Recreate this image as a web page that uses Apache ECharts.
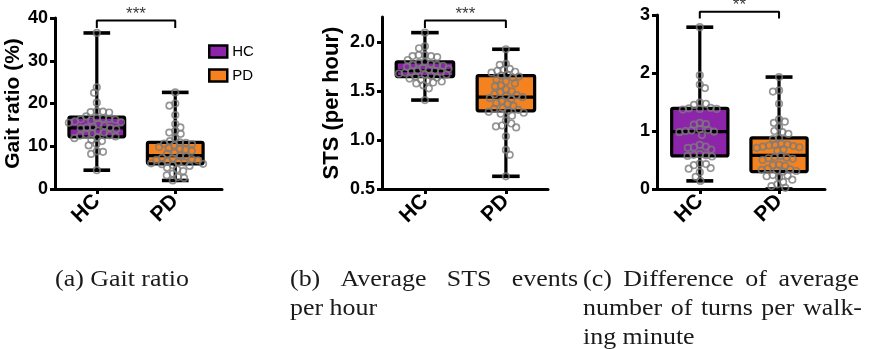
<!DOCTYPE html>
<html>
<head>
<meta charset="utf-8">
<script src="https://cdn.jsdelivr.net/npm/echarts@6/dist/echarts.min.js"></script>
<style>
html,body{margin:0;padding:0;background:#fff;}
#main{width:878px;height:349px;}
</style>
</head>
<body>
<div id="main"></div>
<script>
// ---------------- data ----------------
const categories = ['HC', 'PD'];

const gaitHC = [36.5, 23.8, 22.5, 20.2, 18.2, 18.1, 18.0, 17.9, 17.0, 16.6, 16.5, 16.4, 16.3, 16.2, 16.0, 15.8, 15.6, 15.5,
  15.2, 14.8, 14.5, 14.4, 14.3, 14.2, 14.0, 13.6, 13.2, 13.0, 12.8, 12.6, 12.5, 12.3, 12.1, 11.9, 11.5, 11.2, 10.5, 10.2, 8.8, 8.7, 8.2, 4.4];
const gaitPD = [22.6, 20.0, 19.5, 17.3, 15.2, 14.4, 13.6, 13.2, 12.9, 11.9, 11.2, 10.9, 10.8, 10.6, 10.5, 10.2, 9.8, 9.6, 9.4,
  9.2, 8.9, 8.5, 8.2, 7.8, 7.6, 7.3, 7.1, 7.0, 6.8, 6.7, 6.5, 6.3, 6.2, 6.0, 5.9, 5.8, 5.6, 5.4, 5.0, 4.6, 4.2, 3.6, 3.2, 2.8, 2.6, 2.0];
const stsHC = [2.10, 1.96, 1.94, 1.87, 1.87, 1.86, 1.86, 1.85, 1.82, 1.80, 1.79, 1.78, 1.77, 1.77, 1.76, 1.75, 1.74, 1.73, 1.72,
  1.71, 1.71, 1.70, 1.70, 1.69, 1.68, 1.67, 1.67, 1.66, 1.65, 1.64, 1.63, 1.62, 1.61, 1.60, 1.59, 1.58, 1.56, 1.53, 1.41];
const stsPD = [1.93, 1.78, 1.77, 1.73, 1.72, 1.71, 1.70, 1.69, 1.67, 1.66, 1.65, 1.64, 1.62, 1.60, 1.58, 1.56, 1.55, 1.52, 1.50,
  1.49, 1.47, 1.46, 1.45, 1.44, 1.43, 1.42, 1.40, 1.38, 1.37, 1.35, 1.33, 1.32, 1.31, 1.30, 1.29, 1.28, 1.27, 1.25, 1.20, 1.17,
  1.15, 1.14, 1.13, 1.04, 0.90, 0.85, 0.63];
const turnsHC = [2.79, 1.96, 1.80, 1.74, 1.49, 1.47, 1.45, 1.40, 1.39, 1.38, 1.38, 1.37, 1.14, 1.12, 1.11, 1.03, 1.02, 1.01, 1.00,
  0.99, 0.98, 0.93, 0.76, 0.73, 0.72, 0.71, 0.68, 0.60, 0.59, 0.58, 0.57, 0.56, 0.44, 0.43, 0.41, 0.36, 0.35, 0.29, 0.21, 0.14];
const turnsPD = [1.93, 1.70, 1.68, 1.47, 1.20, 1.16, 1.14, 1.07, 1.00, 0.98, 0.95, 0.88, 0.86, 0.78, 0.77, 0.76, 0.75, 0.74, 0.73,
  0.72, 0.71, 0.68, 0.66, 0.57, 0.55, 0.54, 0.53, 0.52, 0.50, 0.42, 0.41, 0.40, 0.35, 0.34, 0.33, 0.32, 0.31, 0.30, 0.24, 0.23,
  0.22, 0.20, 0.16, 0.12, 0.08, 0.05, 0.02];

// box statistics: [min, Q1, median, Q3, max]
const gaitBoxHC = [4.4, 12.2, 14.3, 16.8, 36.5];
const gaitBoxPD = [2.0, 5.9, 7.8, 10.9, 22.6];
const stsBoxHC = [1.41, 1.65, 1.71, 1.80, 2.10];
const stsBoxPD = [0.63, 1.30, 1.44, 1.66, 1.93];
const turnsBoxHC = [0.14, 0.57, 0.99, 1.39, 2.79];
const turnsBoxPD = [0.0, 0.30, 0.58, 0.88, 1.93];

const gaitTicks = [0, 10, 20, 30, 40];
const stsTicks = [0.5, 1.0, 1.5, 2.0];
const turnsTicks = [0, 1, 2, 3];

const significance = ['***', '***', '**'];
const axisNames = ['Gait ratio (%)', 'STS (per hour)', ''];

// ---------------- layout / styles ----------------
const FONT = '"Liberation Sans", Arial, Helvetica, sans-serif';
const SERIF = '"Liberation Serif", "Times New Roman", serif';
const groupColors = {HC: '#8C25AA', PD: '#F4821F'};

const panels = [
  {grid: {left: 55, top: 18, width: 167, height: 171}, xRange: [-0.533, 1.596], yMin: 0, yMax: 40, ticks: gaitTicks,
   fmt: v => String(v), hc: gaitHC, pd: gaitPD, boxHC: gaitBoxHC, boxPD: gaitBoxPD, bracket: [37.66, 39.44],
   nameGap: 27, nameSize: 21},
  {grid: {left: 382, top: 17, width: 166, height: 172}, xRange: [-0.53, 1.52], yMin: 0.5, yMax: 2.26, ticks: stsTicks,
   fmt: v => v.toFixed(1), hc: stsHC, pd: stsPD, boxHC: stsBoxHC, boxPD: stsBoxPD, bracket: [2.147, 2.225],
   nameGap: 39, nameSize: 22},
  {grid: {left: 657, top: 15, width: 168, height: 174}, xRange: [-0.54, 1.58], yMin: 0, yMax: 3, ticks: turnsTicks,
   fmt: v => String(v), hc: turnsHC, pd: turnsPD, boxHC: turnsBoxHC, boxPD: turnsBoxPD, bracket: [2.94, 3.057],
   nameGap: 27, nameSize: 21}
];

const BOX_W = 0.71, CAP_W = 0.34;

function boxRender(params, api) {
  const x = api.value(0);
  const mn = api.value(1), q1 = api.value(2), md = api.value(3), q3 = api.value(4), mx = api.value(5);
  const c = v => api.coord([x, v]);
  const bw = api.size([BOX_W, 0])[0];
  const cw = api.size([CAP_W, 0])[0];
  const pMin = c(mn), pMax = c(mx), pQ1 = c(q1), pQ3 = c(q3), pMd = c(md);
  const cx = pMin[0];
  const line = {stroke: '#000', lineWidth: 3.2, lineCap: 'butt'};
  const fill = api.visual('color');
  return {
    type: 'group',
    children: [
      {type: 'line', shape: {x1: cx, y1: pMin[1], x2: cx, y2: pMax[1]}, style: line},
      {type: 'line', shape: {x1: cx - cw / 2, y1: pMin[1], x2: cx + cw / 2, y2: pMin[1]}, style: {stroke: '#000', lineWidth: 3.6}},
      {type: 'line', shape: {x1: cx - cw / 2, y1: pMax[1], x2: cx + cw / 2, y2: pMax[1]}, style: {stroke: '#000', lineWidth: 3.6}},
      {type: 'rect', shape: {x: cx - bw / 2, y: pQ3[1], width: bw, height: pQ1[1] - pQ3[1], r: 1.5},
       style: {fill: fill, stroke: '#000', lineWidth: 3.2}},
      {type: 'line', shape: {x1: cx - bw / 2, y1: pMd[1], x2: cx + bw / 2, y2: pMd[1]}, style: line}
    ]
  };
}

const grids = [], xAxes = [], yAxes = [], series = [];
panels.forEach((p, i) => {
  grids.push(Object.assign({containLabel: false}, p.grid));
  xAxes.push({
    type: 'value', gridIndex: i, min: p.xRange[0], max: p.xRange[1],
    splitLine: {show: false},
    axisLine: {show: true, onZero: false, lineStyle: {color: '#000', width: 3}},
    axisTick: {show: true, customValues: [0, 1], length: 5, lineStyle: {color: '#000', width: 3}},
    axisLabel: {customValues: [0, 1], formatter: v => categories[Math.round(v)], rotate: 45, margin: 9,
      color: '#000', fontSize: 21, fontWeight: 'bold', fontFamily: FONT}
  });
  yAxes.push({
    type: 'value', gridIndex: i, min: p.yMin, max: p.yMax,
    name: axisNames[i], nameLocation: 'middle', nameGap: p.nameGap,
    nameTextStyle: {color: '#000', fontSize: p.nameSize, fontWeight: 'bold', fontFamily: FONT},
    splitLine: {show: false},
    axisLine: {show: true, onZero: false, lineStyle: {color: '#000', width: 3}},
    axisTick: {show: true, customValues: p.ticks, length: 5, lineStyle: {color: '#000', width: 3}},
    axisLabel: {customValues: p.ticks, formatter: v => p.fmt(v), margin: 7,
      color: '#000', fontSize: 18, fontWeight: 'bold', fontFamily: FONT}
  });
  [['HC', p.boxHC, 0], ['PD', p.boxPD, 1]].forEach(([name, box, xi]) => {
    series.push({
      type: 'custom', name: name, xAxisIndex: i, yAxisIndex: i, z: 2, clip: false,
      itemStyle: {color: groupColors[name], borderColor: '#000', borderWidth: 2.5},
      encode: {x: 0, y: [1, 2, 3, 4, 5]},
      data: [[xi].concat(box)],
      renderItem: boxRender
    });
  });
  series.push({
    id: 'pts' + i, type: 'scatter', xAxisIndex: i, yAxisIndex: i, z: 4, clip: false,
    symbol: 'circle', symbolSize: 6.5, silent: true,
    itemStyle: {color: 'rgba(0,0,0,0)', borderColor: '#7c7c7c', borderWidth: 1.7},
    data: []
  });
  series.push({
    type: 'line', xAxisIndex: i, yAxisIndex: i, z: 5, clip: false, symbol: 'none', silent: true,
    lineStyle: {color: '#000', width: 2},
    data: [[0, p.bracket[0]], [0, p.bracket[1]], [1, p.bracket[1]], [1, p.bracket[0]]]
  });
  series.push({
    type: 'scatter', xAxisIndex: i, yAxisIndex: i, z: 5, clip: false, symbolSize: 0, silent: true,
    label: {show: true, position: 'top', distance: -2, formatter: significance[i],
      color: '#000', fontSize: 17, fontFamily: FONT},
    data: [[0.5, p.bracket[1]]]
  });
});

// captions (justified lines like the LaTeX source)
const captionLines = [
  {text: '(a) Gait ratio', x0: 55, x1: null, y: 280},
  {text: '(b) Average STS events', x0: 290, x1: 578, y: 280},
  {text: 'per hour', x0: 290, x1: null, y: 309},
  {text: '(c) Difference of average', x0: 583, x1: 859, y: 280},
  {text: 'number of turns per walk-', x0: 583, x1: 862, y: 309},
  {text: 'ing minute', x0: 583, x1: null, y: 338}
];
const CAP_FONT = '24px ' + SERIF;
const capScale = 1.08;
const ctx = document.createElement('canvas').getContext('2d');
ctx.font = CAP_FONT;
const graphics = [];
function capWord(w, x, y) {
  graphics.push({type: 'text', x: x, y: y, scaleX: capScale,
    style: {text: w, font: CAP_FONT, fill: '#1a1a1a', verticalAlign: 'middle', align: 'left'}});
}
captionLines.forEach(l => {
  if (l.x1 == null) {
    capWord(l.text, l.x0, l.y);
  } else {
    const words = l.text.split(' ');
    const widths = words.map(w => ctx.measureText(w).width * capScale);
    const total = widths.reduce((a, b) => a + b, 0);
    const gap = (l.x1 - l.x0 - total) / (words.length - 1);
    let x = l.x0;
    words.forEach((w, k) => {
      capWord(w, x, l.y);
      x += widths[k] + gap;
    });
  }
});

const chart = echarts.init(document.getElementById('main'), null, {renderer: 'canvas'});
chart.setOption({
  animation: false,
  backgroundColor: '#fff',
  textStyle: {fontFamily: FONT},
  grid: grids, xAxis: xAxes, yAxis: yAxes,
  legend: {
    data: ['HC', 'PD'], orient: 'vertical', left: 203, top: 39, itemWidth: 18, itemHeight: 12, itemGap: 9,
    icon: 'rect', textStyle: {fontSize: 15, color: '#000', fontFamily: FONT},
    itemStyle: {borderColor: '#000', borderWidth: 2.5}
  },
  graphic: graphics,
  series: series
});

// beeswarm placement in pixel space (deterministic)
function swarm(values, gi, xc) {
  const D = 6.2;
  const x0 = chart.convertToPixel({gridIndex: gi}, [0, 0])[0];
  const x1 = chart.convertToPixel({gridIndex: gi}, [1, 0])[0];
  const ppu = x1 - x0;
  const placed = [];
  const sorted = values.slice().sort((a, b) => b - a);
  const out = [];
  sorted.forEach((v, idx) => {
    const py = chart.convertToPixel({gridIndex: gi}, [0, v])[1];
    const ivs = [];
    placed.forEach(q => {
      const dy = Math.abs(q.y - py);
      if (dy < D) {
        const h = Math.sqrt(D * D - dy * dy);
        ivs.push([q.x - h, q.x + h]);
      }
    });
    const cands = [0];
    ivs.forEach(iv => { cands.push(iv[0], iv[1]); });
    const ok = c => ivs.every(iv => c <= iv[0] + 1e-6 || c >= iv[1] - 1e-6);
    let best = null;
    cands.forEach(c => {
      if (!ok(c)) return;
      if (best === null || Math.abs(c) < Math.abs(best) - 1e-6 ||
          (Math.abs(Math.abs(c) - Math.abs(best)) < 1e-6 && (idx % 2 === 0 ? c < best : c > best))) best = c;
    });
    placed.push({x: best, y: py});
    out.push([xc + best / ppu, v]);
  });
  return out;
}

const upd = panels.map((p, i) => ({id: 'pts' + i, data: swarm(p.hc, i, 0).concat(swarm(p.pd, i, 1))}));
chart.setOption({series: upd});
</script>
</body>
</html>
